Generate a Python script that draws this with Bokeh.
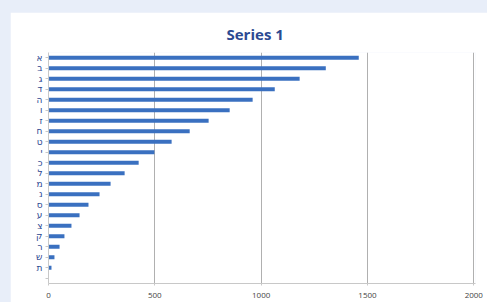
from bokeh.plotting import figure
from bokeh.models import ColumnDataSource, FactorRange, Range1d, FixedTicker
from bokeh.embed import file_html
from bokeh.resources import INLINE

letters = ["א", "ב", "ג", "ד", "ה", "ו", "ז", "ח", "ט", "י", "כ",
           "ל", "מ", "נ", "ס", "ע", "צ", "ק", "ר", "ש", "ת"]
values = [1459, 1304, 1181, 1064, 960, 852, 753, 664, 579, 498, 424,
          358, 292, 240, 188, 146, 108, 75, 52, 28, 14]
x_ticks = [0, 500, 1000, 1500, 2000]
series_name = "Series 1"

factors = [" "] + letters[::-1]
src = ColumnDataSource(dict(cat=letters, val=values))

p = figure(width=477, height=290, output_backend="svg", toolbar_location=None,
           y_range=FactorRange(factors=factors), x_range=Range1d(0, 2008),
           min_border_left=38, min_border_right=12, min_border_top=40,
           min_border_bottom=19, title=series_name)
p.margin = (12, 0, 0, 10)
p.background_fill_color = "white"
p.border_fill_color = "white"
p.outline_line_color = None

p.hbar(y="cat", right="val", left=0, height=0.4, source=src,
       color="#3a70c0", line_color=None)

p.title.align = "left"
p.title.offset = 178
p.title.standoff = 18
p.title.text_font = "Open Sans"
p.title.text_font_size = "15px"
p.title.text_font_style = "bold"
p.title.text_color = "#2c4a92"

p.xaxis.ticker = FixedTicker(ticks=x_ticks)
p.xgrid.ticker = FixedTicker(ticks=x_ticks)
p.xgrid.grid_line_color = "#b0b0b0"
p.ygrid.grid_line_color = None
p.xaxis.axis_line_color = "#c8c8c8"
p.xaxis.major_tick_line_color = "#c8c8c8"
p.xaxis.major_tick_out = 2
p.xaxis.major_tick_in = 0
p.xaxis.minor_tick_line_color = None
p.xaxis.major_label_standoff = 7
p.xaxis.major_label_text_font = "Open Sans"
p.xaxis.major_label_text_font_size = "8px"
p.xaxis.major_label_text_color = "#444444"

p.yaxis.axis_line_color = "#c8c8c8"
p.yaxis.major_tick_line_color = "#c8c8c8"
p.yaxis.major_tick_out = 3
p.yaxis.major_tick_in = 0
p.yaxis.major_label_standoff = 3
p.yaxis.major_label_text_font = "DejaVu Sans"
p.yaxis.major_label_text_font_size = "9px"
p.yaxis.major_label_text_color = "#2a4690"

html = file_html(p, INLINE)
html = html.replace("<head>", "<head><style>body{background:#e8eef9;}</style>", 1)
open("out.html", "w").write(html)
